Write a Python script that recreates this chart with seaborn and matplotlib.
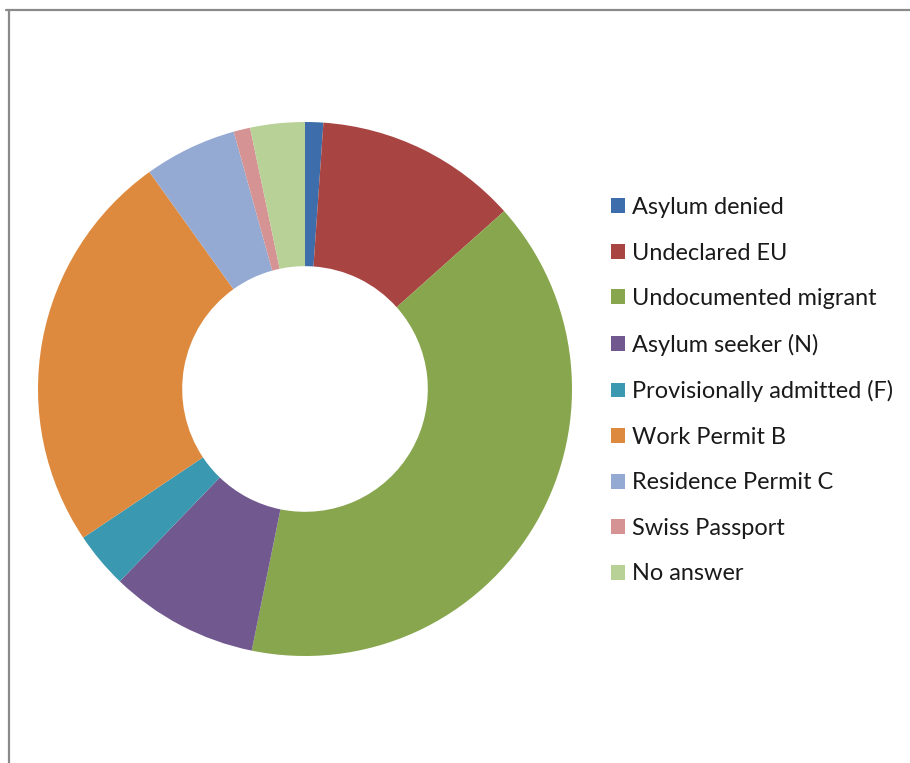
import matplotlib
matplotlib.use("Agg")
import matplotlib.pyplot as plt
from matplotlib.patches import Patch
from matplotlib.lines import Line2D
import seaborn as sns

categories = ["Asylum denied", "Undeclared EU", "Undocumented migrant",
              "Asylum seeker (N)", "Provisionally admitted (F)", "Work Permit B",
              "Residence Permit C", "Swiss Passport", "No answer"]
values = [1.1, 12.3, 39.8, 9.0, 3.4, 24.5, 5.6, 1.0, 3.3]
colors = ["#3D6DAA", "#A84543", "#87A64D", "#715990", "#3A98B0",
          "#DE8A3E", "#95AAD3", "#D59393", "#B8D197"]

sns.set_theme(style="white")
plt.rcParams['font.family'] = ['Lato', 'DejaVu Sans']

W, H = 910, 763
fig = plt.figure(figsize=(W / 100, H / 100), dpi=100)
fig.patch.set_facecolor("white")

cx, cy, r = 305, 389, 267
ax = fig.add_axes([(cx - r) / W, (H - cy - r) / H, 2 * r / W, 2 * r / H])
palette = sns.color_palette(colors)
wedges, _ = ax.pie(values, colors=palette, startangle=90, counterclock=False,
                   radius=1.0, wedgeprops=dict(width=0.54, linewidth=0))
ax.set_xlim(-1, 1)
ax.set_ylim(-1, 1)
ax.set_aspect("equal")
ax.axis("off")

handles = [Patch(facecolor=c, edgecolor="none") for c in palette]
leg = fig.legend(handles, categories, loc="upper left",
                 bbox_to_anchor=(611 / W, 1 - 197 / H), frameon=False,
                 fontsize=16.9, handlelength=0.6, handleheight=0.6,
                 handletextpad=0.3, labelspacing=1.045, borderaxespad=0,
                 borderpad=0)
for t in leg.get_texts():
    t.set_color("#1a1a1a")

# frame lines (top and left) as in the reference screenshot
fig.add_artist(Line2D([6 / W, 1.0], [1 - 9.5 / H, 1 - 9.5 / H],
                      transform=fig.transFigure, color="#8a8a8a", lw=1.6))
fig.add_artist(Line2D([8.5 / W, 8.5 / W], [0, 1 - 9.5 / H],
                      transform=fig.transFigure, color="#8a8a8a", lw=1.6))

fig.savefig("out.png", dpi=100, facecolor="white")
